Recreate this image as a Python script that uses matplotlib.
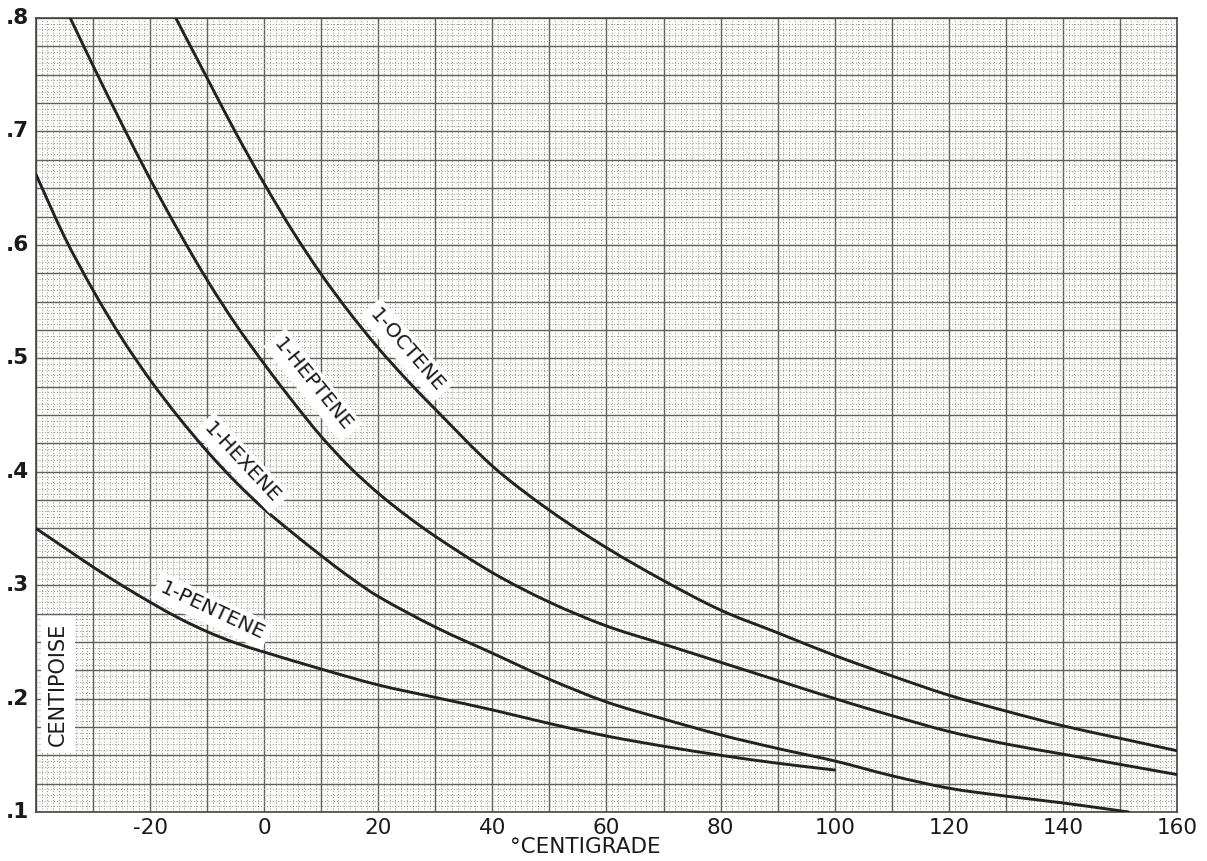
import numpy as np
import matplotlib
matplotlib.use("Agg")
import matplotlib.pyplot as plt
from matplotlib.ticker import MultipleLocator
from matplotlib.path import Path
from matplotlib.patches import PathPatch

# ---- data (temperature °C, viscosity centipoise) ----
octene_t = [-15.5, -10, -5, 0, 5, 10, 15, 20, 25, 30, 40, 50, 60, 70, 80, 90, 100, 110, 120, 130, 140, 150, 160]
octene_v = [0.800, 0.747, 0.699, 0.654, 0.612, 0.574, 0.540, 0.509, 0.481, 0.455, 0.405, 0.366, 0.333, 0.304,
            0.278, 0.258, 0.238, 0.220, 0.203, 0.189, 0.176, 0.165, 0.154]

heptene_t = [-34, -30, -25, -20, -15, -10, -5, 0, 5, 10, 15, 20, 25, 30, 40, 50, 60, 70, 80, 90, 100, 110, 120, 130, 140, 150, 160]
heptene_v = [0.800, 0.758, 0.707, 0.658, 0.612, 0.569, 0.530, 0.495, 0.462, 0.431, 0.404, 0.381, 0.361, 0.343,
             0.311, 0.285, 0.264, 0.248, 0.232, 0.216, 0.200, 0.185, 0.171, 0.160, 0.151, 0.142, 0.133]

hexene_t = [-40, -35, -30, -25, -20, -15, -10, -5, 0, 5, 10, 15, 20, 30, 40, 50, 60, 70, 80, 90, 100, 110, 120, 130, 140, 151.5]
hexene_v = [0.662, 0.607, 0.560, 0.518, 0.481, 0.448, 0.418, 0.391, 0.367, 0.346, 0.326, 0.307, 0.290, 0.263,
            0.240, 0.217, 0.197, 0.182, 0.168, 0.156, 0.145, 0.132, 0.121, 0.114, 0.108, 0.100]

pentene_t = [-40, -35, -30, -25, -20, -15, -10, -5, 0, 10, 20, 30, 40, 50, 60, 70, 80, 90, 100]
pentene_v = [0.350, 0.333, 0.316, 0.300, 0.285, 0.271, 0.259, 0.249, 0.241, 0.226, 0.212, 0.201, 0.190, 0.178,
             0.167, 0.158, 0.150, 0.143, 0.137]

x_ticks = [-20, 0, 20, 40, 60, 80, 100, 120, 140, 160]
y_ticks = [0.1, 0.2, 0.3, 0.4, 0.5, 0.6, 0.7, 0.8]
y_tick_labels = [".1", ".2", ".3", ".4", ".5", ".6", ".7", ".8"]

labels = ["1-OCTENE", "1-HEPTENE", "1-HEXENE", "1-PENTENE"]
label_pos = [(407, 350), (313, 385), (242, 463), (212, 611)]  # pixel positions
label_rot = [-49, -51, -47, -25]

W, H = 1207, 861
fig = plt.figure(figsize=(W / 100, H / 100), dpi=100)
fig.patch.set_facecolor("white")
ax = fig.add_axes([36 / W, 1 - 812 / H, (1177 - 36) / W, (812 - 18) / H])
ax.set_facecolor("#fbfbf9")
ax.set_xlim(-40, 160)
ax.set_ylim(0.1, 0.8)

# graph-paper grid
ax.xaxis.set_major_locator(MultipleLocator(10))
ax.yaxis.set_major_locator(MultipleLocator(0.025))
ax.xaxis.set_minor_locator(MultipleLocator(1))
ax.yaxis.set_minor_locator(MultipleLocator(0.005))
ax.grid(which="minor", color="#959595", linestyle=(0, (1, 2.0)), linewidth=0.7)
ax.grid(which="major", color="#606060", linestyle="-", linewidth=1.0)
ax.set_axisbelow(True)
for s in ax.spines.values():
    s.set_color("#444444")
    s.set_linewidth(1.2)
ax.tick_params(which="both", length=0, labelbottom=False, labelleft=False)


def smooth_curve(ax, xs, ys, **kw):
    """Draw a smooth curve through the read points (cubic Hermite as Bezier path)."""
    x = np.asarray(xs, float)
    y = np.asarray(ys, float)
    n = len(x)
    m = np.zeros(n)
    m[0] = (y[1] - y[0]) / (x[1] - x[0])
    m[-1] = (y[-1] - y[-2]) / (x[-1] - x[-2])
    for i in range(1, n - 1):
        m[i] = (y[i + 1] - y[i - 1]) / (x[i + 1] - x[i - 1])
    verts = [(x[0], y[0])]
    codes = [Path.MOVETO]
    for i in range(n - 1):
        h = x[i + 1] - x[i]
        verts += [(x[i] + h / 3, y[i] + m[i] * h / 3),
                  (x[i + 1] - h / 3, y[i + 1] - m[i + 1] * h / 3),
                  (x[i + 1], y[i + 1])]
        codes += [Path.CURVE4] * 3
    patch = PathPatch(Path(verts, codes), facecolor="none", **kw)
    ax.add_patch(patch)


line_kw = dict(edgecolor="#222222", linewidth=2.1, capstyle="round", zorder=3)
smooth_curve(ax, octene_t, octene_v, **line_kw)
smooth_curve(ax, heptene_t, heptene_v, **line_kw)
smooth_curve(ax, hexene_t, hexene_v, **line_kw)
smooth_curve(ax, pentene_t, pentene_v, **line_kw)

font = dict(family="DejaVu Sans", color="#1a1a1a")

# tick labels
for xt in x_ticks:
    xd = ax.transData.transform((xt, 0.1))[0]
    fig.text(xd / W, 1 - 828 / H, str(xt), ha="center", va="center", fontsize=15.5, **font)
for yt, lab in zip(y_ticks, y_tick_labels):
    yd = ax.transData.transform((0, yt))[1]
    fig.text(17 / W, yd / H, lab, ha="center", va="center", fontsize=15.5, fontweight="bold", **font)

fig.text(585 / W, 1 - 847 / H, "°CENTIGRADE", ha="center", va="center", fontsize=15.5, **font)

box = dict(facecolor="white", edgecolor="none", pad=3.5)
for lab, (px, py), rot in zip(labels, label_pos, label_rot):
    fig.text(px / W, 1 - py / H, lab, ha="center", va="center", rotation=rot,
             rotation_mode="anchor", fontsize=14.5, bbox=box, zorder=5, **font)

fig.text(58 / W, 1 - 684 / H, "CENTIPOISE", ha="center", va="center", rotation=90,
         fontsize=15, bbox=dict(facecolor="white", edgecolor="none", pad=5), **font)

fig.savefig("out.png", dpi=100)
